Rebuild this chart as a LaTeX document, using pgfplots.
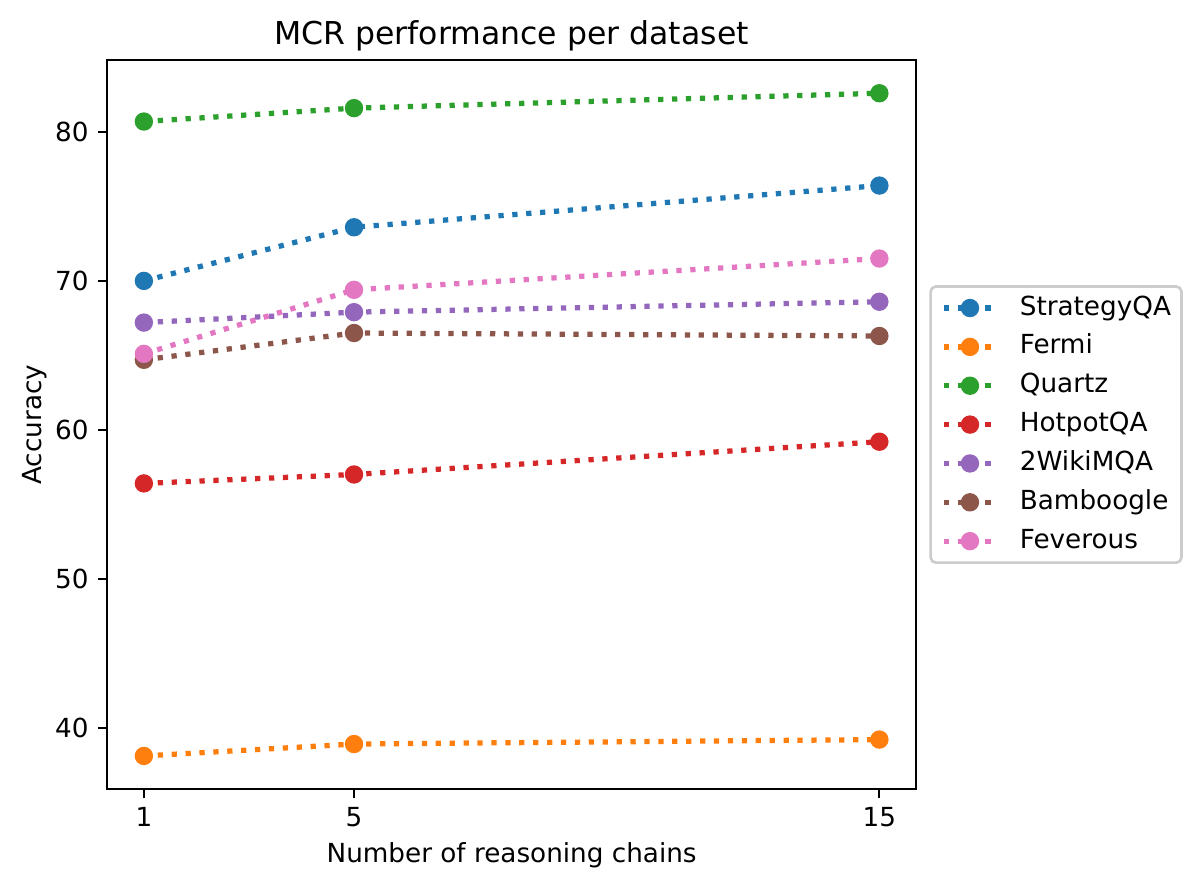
\documentclass[border=0pt]{standalone}
\usepackage{fontspec}
\setmainfont{DejaVu Sans}
\usepackage{pgfplots}
\pgfplotsset{compat=1.18}
\definecolor{c0}{HTML}{1F77B4}
\definecolor{c1}{HTML}{FF7F0E}
\definecolor{c2}{HTML}{2CA02C}
\definecolor{c3}{HTML}{D62728}
\definecolor{c4}{HTML}{9467BD}
\definecolor{c5}{HTML}{8C564B}
\definecolor{c6}{HTML}{E377C2}
\begin{document}
\begin{tikzpicture}
\begin{axis}[
  scale only axis,
  width=308.2pt, height=277.7pt,
  xmin=0.3, xmax=15.7, ymin=35.875, ymax=84.825,
  xtick={1,5,15}, ytick={40,50,60,70,80},
  /pgf/number format/assume math mode=true,
  tick align=outside, tick pos=left,
  major tick length=3.5pt,
  every tick/.style={black, line width=0.8pt},
  axis line style={line width=0.8pt},
  tick label style={font=\fontsize{10}{12}\selectfont},
  label style={font=\fontsize{10}{12}\selectfont},
  ylabel style={yshift=-3.8pt},
  xlabel style={yshift=1pt},
  title style={font=\fontsize{12}{14.4}\selectfont, yshift=-6pt},
  title={MCR performance per dataset},
  xlabel={Number of reasoning chains},
  ylabel={Accuracy},
  legend style={at={(1,0.5)}, anchor=west, xshift=5pt,
    draw=black!20, line width=1pt, rounded corners=2pt,
    font=\fontsize{10}{12}\selectfont,
    inner xsep=4pt, inner ysep=3.3pt, row sep=5pt,
    nodes={inner sep=0pt, text height=7.6pt, text depth=2.2pt},
    /tikz/every odd column/.append style={column sep=8pt}},
  legend cell align=left,
  legend image code/.code={\draw[mark repeat=2,mark phase=2] plot coordinates {(0pt,0pt) (10pt,0pt) (20pt,0pt)};},
  every axis plot/.append style={line width=2pt, dash pattern=on 2pt off 3.3pt,
    mark=*, mark size=3.25pt, mark options={solid, line width=0.5pt}},
]
\addplot[c0] coordinates {(1,70.0) (5,73.6) (15,76.4)};
\addlegendentry{StrategyQA}
\addplot[c1] coordinates {(1,38.1) (5,38.9) (15,39.2)};
\addlegendentry{Fermi}
\addplot[c2] coordinates {(1,80.7) (5,81.6) (15,82.6)};
\addlegendentry{Quartz}
\addplot[c3] coordinates {(1,56.4) (5,57.0) (15,59.2)};
\addlegendentry{HotpotQA}
\addplot[c4] coordinates {(1,67.2) (5,67.9) (15,68.6)};
\addlegendentry{2WikiMQA}
\addplot[c5] coordinates {(1,64.7) (5,66.5) (15,66.3)};
\addlegendentry{Bamboogle}
\addplot[c6] coordinates {(1,65.1) (5,69.4) (15,71.5)};
\addlegendentry{Feverous}
\end{axis}
\path (current axis.south west) ++(-40.8pt,-38.1pt) rectangle ++(455.6pt,338.7pt);
\end{tikzpicture}
\end{document}
